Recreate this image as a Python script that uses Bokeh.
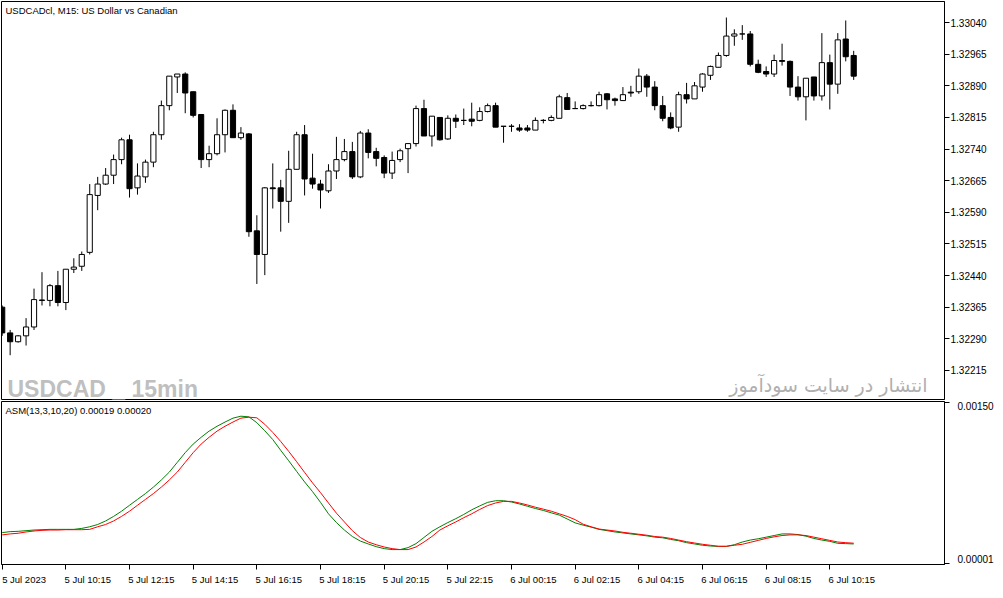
from bokeh.plotting import figure
from bokeh.models import (Range1d, LinearAxis, FixedTicker, PrintfTickFormatter,
                          Label, ColumnDataSource, CustomLabelingPolicy)
from bokeh.layouts import column
from bokeh.embed import file_html
from bokeh.resources import INLINE

# ---------------- data (USDCAD M15, 108 bars) ----------------
opens = [
    1.32365, 1.32304, 1.32283, 1.32297, 1.32318, 1.32382, 1.32381, 1.32416, 1.32376, 1.32455,
    1.32462, 1.32495, 1.32630, 1.32657, 1.32678, 1.32715, 1.32762, 1.32648, 1.32674, 1.32709,
    1.32774, 1.32843, 1.32911, 1.32918, 1.32876, 1.32822, 1.32715, 1.32729, 1.32774, 1.32832,
    1.32767, 1.32776, 1.32546, 1.32490, 1.32648, 1.32648, 1.32616, 1.32692, 1.32774, 1.32671,
    1.32657, 1.32641, 1.32688, 1.32715, 1.32734, 1.32674, 1.32778, 1.32734, 1.32720, 1.32683,
    1.32715, 1.32741, 1.32753, 1.32836, 1.32771, 1.32815, 1.32764, 1.32813, 1.32808, 1.32811,
    1.32808, 1.32829, 1.32843, 1.32794, 1.32794, 1.32790, 1.32790, 1.32785, 1.32808, 1.32808,
    1.32813, 1.32862, 1.32836, 1.32836, 1.32843, 1.32843, 1.32871, 1.32859, 1.32855, 1.32875,
    1.32876, 1.32913, 1.32887, 1.32843, 1.32815, 1.32792, 1.32869, 1.32859, 1.32887, 1.32915,
    1.32934, 1.32962, 1.33008, 1.33013, 1.33013, 1.32941, 1.32924, 1.32918, 1.32950, 1.32948,
    1.32887, 1.32864, 1.32911, 1.32866, 1.32945, 1.32894, 1.33001, 1.32962]
highs = [
    1.32369, 1.32311, 1.32299, 1.32339, 1.32409, 1.32448, 1.32420, 1.32451, 1.32455, 1.32481,
    1.32497, 1.32657, 1.32674, 1.32695, 1.32727, 1.32767, 1.32774, 1.32706, 1.32715, 1.32781,
    1.32855, 1.32913, 1.32918, 1.32922, 1.32876, 1.32822, 1.32748, 1.32813, 1.32834, 1.32846,
    1.32792, 1.32778, 1.32583, 1.32650, 1.32706, 1.32667, 1.32736, 1.32781, 1.32797, 1.32729,
    1.32667, 1.32704, 1.32769, 1.32764, 1.32757, 1.32783, 1.32787, 1.32743, 1.32725, 1.32734,
    1.32741, 1.32753, 1.32843, 1.32857, 1.32818, 1.32815, 1.32820, 1.32822, 1.32836, 1.32850,
    1.32839, 1.32848, 1.32850, 1.32794, 1.32799, 1.32799, 1.32797, 1.32815, 1.32811, 1.32820,
    1.32869, 1.32873, 1.32853, 1.32846, 1.32853, 1.32876, 1.32873, 1.32862, 1.32887, 1.32890,
    1.32931, 1.32918, 1.32901, 1.32866, 1.32827, 1.32876, 1.32897, 1.32899, 1.32920, 1.32938,
    1.32969, 1.33052, 1.33024, 1.33034, 1.33020, 1.32952, 1.32936, 1.32964, 1.32990, 1.32950,
    1.32913, 1.32908, 1.32911, 1.33015, 1.32964, 1.33015, 1.33045, 1.32973]
lows = [
    1.32297, 1.32251, 1.32281, 1.32274, 1.32311, 1.32369, 1.32367, 1.32367, 1.32358, 1.32446,
    1.32451, 1.32490, 1.32595, 1.32655, 1.32657, 1.32704, 1.32625, 1.32632, 1.32660, 1.32697,
    1.32762, 1.32832, 1.32873, 1.32825, 1.32815, 1.32695, 1.32697, 1.32725, 1.32732, 1.32767,
    1.32762, 1.32532, 1.32420, 1.32441, 1.32599, 1.32544, 1.32565, 1.32692, 1.32630, 1.32646,
    1.32599, 1.32636, 1.32669, 1.32711, 1.32669, 1.32671, 1.32718, 1.32699, 1.32671, 1.32669,
    1.32709, 1.32683, 1.32746, 1.32771, 1.32746, 1.32760, 1.32762, 1.32790, 1.32797, 1.32794,
    1.32806, 1.32827, 1.32792, 1.32755, 1.32781, 1.32781, 1.32781, 1.32785, 1.32801, 1.32806,
    1.32813, 1.32834, 1.32836, 1.32834, 1.32841, 1.32841, 1.32834, 1.32843, 1.32855, 1.32864,
    1.32871, 1.32864, 1.32832, 1.32806, 1.32787, 1.32781, 1.32848, 1.32859, 1.32876, 1.32904,
    1.32934, 1.32959, 1.32985, 1.32999, 1.32936, 1.32920, 1.32911, 1.32911, 1.32938, 1.32866,
    1.32855, 1.32808, 1.32855, 1.32855, 1.32834, 1.32871, 1.32948, 1.32904]
closes = [
    1.32304, 1.32283, 1.32297, 1.32318, 1.32383, 1.32381, 1.32416, 1.32376, 1.32455, 1.32460,
    1.32490, 1.32632, 1.32657, 1.32678, 1.32715, 1.32762, 1.32646, 1.32676, 1.32709, 1.32774,
    1.32843, 1.32913, 1.32918, 1.32873, 1.32820, 1.32715, 1.32729, 1.32774, 1.32832, 1.32767,
    1.32778, 1.32544, 1.32490, 1.32648, 1.32646, 1.32616, 1.32692, 1.32774, 1.32669, 1.32657,
    1.32643, 1.32688, 1.32715, 1.32734, 1.32674, 1.32778, 1.32732, 1.32718, 1.32683, 1.32713,
    1.32736, 1.32753, 1.32836, 1.32771, 1.32818, 1.32762, 1.32813, 1.32806, 1.32808, 1.32806,
    1.32829, 1.32843, 1.32792, 1.32794, 1.32794, 1.32785, 1.32785, 1.32808, 1.32808, 1.32815,
    1.32864, 1.32834, 1.32836, 1.32843, 1.32843, 1.32869, 1.32857, 1.32855, 1.32869, 1.32873,
    1.32913, 1.32887, 1.32843, 1.32813, 1.32790, 1.32869, 1.32859, 1.32890, 1.32918, 1.32936,
    1.32962, 1.33008, 1.33013, 1.33013, 1.32941, 1.32922, 1.32918, 1.32950, 1.32948, 1.32887,
    1.32864, 1.32908, 1.32866, 1.32945, 1.32894, 1.32999, 1.32959, 1.32913]

# ASM(13,3,10,20) indicator: main (green) and signal (red)
asm_main = [
    0.000296, 0.000305, 0.000308, 0.000314, 0.000320, 0.000323, 0.000326, 0.000326, 0.000326, 0.000326,
    0.000335, 0.000350, 0.000371, 0.000404, 0.000446, 0.000494, 0.000549, 0.000603, 0.000657, 0.000717,
    0.000783, 0.000856, 0.000946, 0.001036, 0.001115, 0.001178, 0.001235, 0.001280, 0.001319, 0.001355,
    0.001373, 0.001367, 0.001313, 0.001238, 0.001157, 0.001057, 0.000961, 0.000862, 0.000765, 0.000675,
    0.000576, 0.000470, 0.000389, 0.000320, 0.000260, 0.000218, 0.000191, 0.000166, 0.000148, 0.000139,
    0.000139, 0.000157, 0.000194, 0.000251, 0.000308, 0.000350, 0.000389, 0.000425, 0.000464, 0.000507,
    0.000543, 0.000576, 0.000591, 0.000591, 0.000579, 0.000561, 0.000540, 0.000519, 0.000501, 0.000479,
    0.000458, 0.000422, 0.000386, 0.000365, 0.000347, 0.000326, 0.000314, 0.000302, 0.000293, 0.000284,
    0.000275, 0.000266, 0.000254, 0.000248, 0.000233, 0.000221, 0.000203, 0.000191, 0.000179, 0.000172,
    0.000169, 0.000169, 0.000184, 0.000209, 0.000227, 0.000239, 0.000254, 0.000269, 0.000284, 0.000284,
    0.000278, 0.000263, 0.000242, 0.000227, 0.000215, 0.000197, 0.000194, 0.000191]
asm_signal = [
    0.000275, 0.000284, 0.000290, 0.000302, 0.000311, 0.000317, 0.000320, 0.000320, 0.000323, 0.000323,
    0.000323, 0.000326, 0.000350, 0.000371, 0.000404, 0.000446, 0.000494, 0.000549, 0.000603, 0.000657,
    0.000717, 0.000783, 0.000856, 0.000946, 0.001036, 0.001115, 0.001178, 0.001235, 0.001280, 0.001319,
    0.001355, 0.001364, 0.001358, 0.001298, 0.001223, 0.001139, 0.001048, 0.000952, 0.000853, 0.000756,
    0.000666, 0.000570, 0.000476, 0.000395, 0.000314, 0.000251, 0.000209, 0.000184, 0.000163, 0.000148,
    0.000139, 0.000139, 0.000163, 0.000209, 0.000260, 0.000320, 0.000359, 0.000395, 0.000434, 0.000470,
    0.000510, 0.000546, 0.000570, 0.000585, 0.000585, 0.000570, 0.000552, 0.000531, 0.000513, 0.000494,
    0.000470, 0.000446, 0.000416, 0.000374, 0.000350, 0.000329, 0.000320, 0.000311, 0.000299, 0.000290,
    0.000281, 0.000272, 0.000260, 0.000254, 0.000242, 0.000227, 0.000212, 0.000200, 0.000188, 0.000179,
    0.000169, 0.000169, 0.000179, 0.000188, 0.000206, 0.000224, 0.000242, 0.000257, 0.000269, 0.000275,
    0.000275, 0.000269, 0.000254, 0.000239, 0.000224, 0.000209, 0.000203, 0.000198]

price_ticks = [1.32215, 1.32290, 1.32365, 1.32440, 1.32515, 1.32590,
               1.32665, 1.32740, 1.32815, 1.32890, 1.32965, 1.33040]
asm_ticks = [0.00001, 0.00150]
asm_tick_labels = ["0.00001", "0.00150"]
date_tick_bars = [0, 8, 16, 24, 32, 40, 48, 56, 64, 72, 80, 88, 96, 104]
date_labels = ["5 Jul 2023", "5 Jul 10:15", "5 Jul 12:15", "5 Jul 14:15", "5 Jul 16:15",
               "5 Jul 18:15", "5 Jul 20:15", "5 Jul 22:15", "6 Jul 00:15", "6 Jul 02:15",
               "6 Jul 04:15", "6 Jul 06:15", "6 Jul 08:15", "6 Jul 10:15"]

title_text = "USDCADcl, M15:  US Dollar vs Canadian"
ind_text = "ASM(13,3,10,20) 0.00019 0.00020"
wm_left = "USDCAD _ 15min"
wm_right = "انتشار در سایت سودآموز"

# ---------------- build ----------------
n = len(closes)
idx = list(range(n))
src = ColumnDataSource(dict(
    x=idx, o=opens, h=highs, l=lows, c=closes,
    top=[max(o, c) for o, c in zip(opens, closes)],
    bot=[min(o, c) for o, c in zip(opens, closes)],
    fill=["white" if c >= o else "black" for o, c in zip(opens, closes)],
))
isrc = ColumnDataSource(dict(x=idx, main=asm_main, sig=asm_signal))

FONT = "Liberation Sans"
xr = Range1d(-0.0875, 118.41)
FW = 943


def hide_all_labels():
    return CustomLabelingPolicy(code="for (const i of indices) indices.unset(i)")


p = figure(x_range=xr, y_range=Range1d(1.32146, 1.33090),
           frame_width=FW, frame_height=398,
           min_border_left=1, min_border_right=0, min_border_top=1, min_border_bottom=1,
           x_axis_location=None, y_axis_location="right",
           toolbar_location=None, output_backend="svg",
           background_fill_color="white", border_fill_color="white",
           outline_line_color="black", outline_line_width=1)
p.grid.visible = False

ya = p.yaxis[0]
ya.ticker = FixedTicker(ticks=price_ticks)
ya.formatter = PrintfTickFormatter(format="%.5f")
ya.major_tick_out = 5
ya.major_tick_in = 0
ya.minor_tick_out = 0
ya.minor_tick_in = 0
ya.major_label_standoff = 1
ya.major_label_text_font = FONT
ya.major_label_text_font_size = "10px"
ya.major_label_text_color = "black"
ya.axis_line_color = "black"
ya.major_tick_line_color = "black"

p.segment(x0="x", y0="l", x1="x", y1="h", source=src, line_color="black", line_width=1)
p.vbar(x="x", width=0.65, top="top", bottom="bot", source=src,
       fill_color="fill", line_color="black", line_width=1)

p.add_layout(Label(x=xr.start, y=1.33090, x_offset=4, y_offset=-3, text=title_text,
                   text_font=FONT, text_font_size="9.5px", text_color="black",
                   text_baseline="top", text_align="left"))
p.add_layout(Label(x=xr.start, y=1.32146, x_offset=6, y_offset=11, text=wm_left,
                   text_font=FONT, text_font_style="bold",
                   text_font_size="23px", text_color="#bfbfbf",
                   text_baseline="alphabetic", text_align="left"))
p.add_layout(Label(x=xr.end, y=1.32146, x_offset=-17, y_offset=15, text=wm_right,
                   text_font="DejaVu Sans", text_font_style="normal",
                   text_font_size="19px", text_color="#b0b0b0",
                   text_baseline="alphabetic", text_align="right"))

# ---------------- indicator pane ----------------
q = figure(x_range=xr, y_range=Range1d(0.000001, 0.001509),
           frame_width=FW, frame_height=163,
           min_border_left=1, min_border_right=0, min_border_top=1, min_border_bottom=0,
           x_axis_location=None, y_axis_location=None,
           toolbar_location=None, output_backend="svg",
           background_fill_color="white", border_fill_color="white",
           outline_line_color="black", outline_line_width=1)
q.grid.visible = False

q.line(x="x", y="main", source=isrc, line_color="#008000", line_width=1)
q.line(x="x", y="sig", source=isrc, line_color="#ff0000", line_width=1)

# right: tick marks at the true levels, labels placed inward like MT5
rt = LinearAxis(ticker=FixedTicker(ticks=asm_ticks), major_tick_out=5, major_tick_in=0,
                minor_tick_out=0, minor_tick_in=0, major_label_standoff=0,
                major_label_text_font_size="1px", major_label_policy=hide_all_labels(),
                axis_line_color="black")
lab_pos = [0.0000552, 0.001464]
rl = LinearAxis(ticker=FixedTicker(ticks=lab_pos), major_tick_out=0, major_tick_in=0,
                minor_tick_out=0, minor_tick_in=0, major_label_standoff=1,
                major_label_overrides={pos: t for pos, t in zip(lab_pos, asm_tick_labels)},
                major_label_text_font=FONT, major_label_text_font_size="10px",
                major_label_text_color="black", axis_line_color=None)
q.add_layout(rt, "right")
q.add_layout(rl, "right")

# bottom: tick marks at bars, labels starting at the tick (shifted right)
bt = LinearAxis(ticker=FixedTicker(ticks=date_tick_bars), major_tick_out=5, major_tick_in=0,
                minor_tick_out=0, minor_tick_in=0, major_label_standoff=0,
                major_label_text_font_size="1px", major_label_policy=hide_all_labels(),
                axis_line_color="black")
date_pos = [b + 2.75 for b in date_tick_bars]
bl = LinearAxis(ticker=FixedTicker(ticks=date_pos), major_tick_out=0, major_tick_in=0,
                minor_tick_out=0, minor_tick_in=0, major_label_standoff=0,
                major_label_overrides={pos: t for pos, t in zip(date_pos, date_labels)},
                major_label_text_font=FONT, major_label_text_font_size="9.5px",
                major_label_text_color="black", axis_line_color=None)
q.add_layout(bt, "below")
q.add_layout(bl, "below")

q.add_layout(Label(x=xr.start, y=0.001509, x_offset=4, y_offset=-3, text=ind_text,
                   text_font=FONT, text_font_size="9.5px", text_color="black",
                   text_baseline="top", text_align="left"))

layout = column(p, q, spacing=0)
open("out.html", "w").write(file_html(layout, INLINE))
